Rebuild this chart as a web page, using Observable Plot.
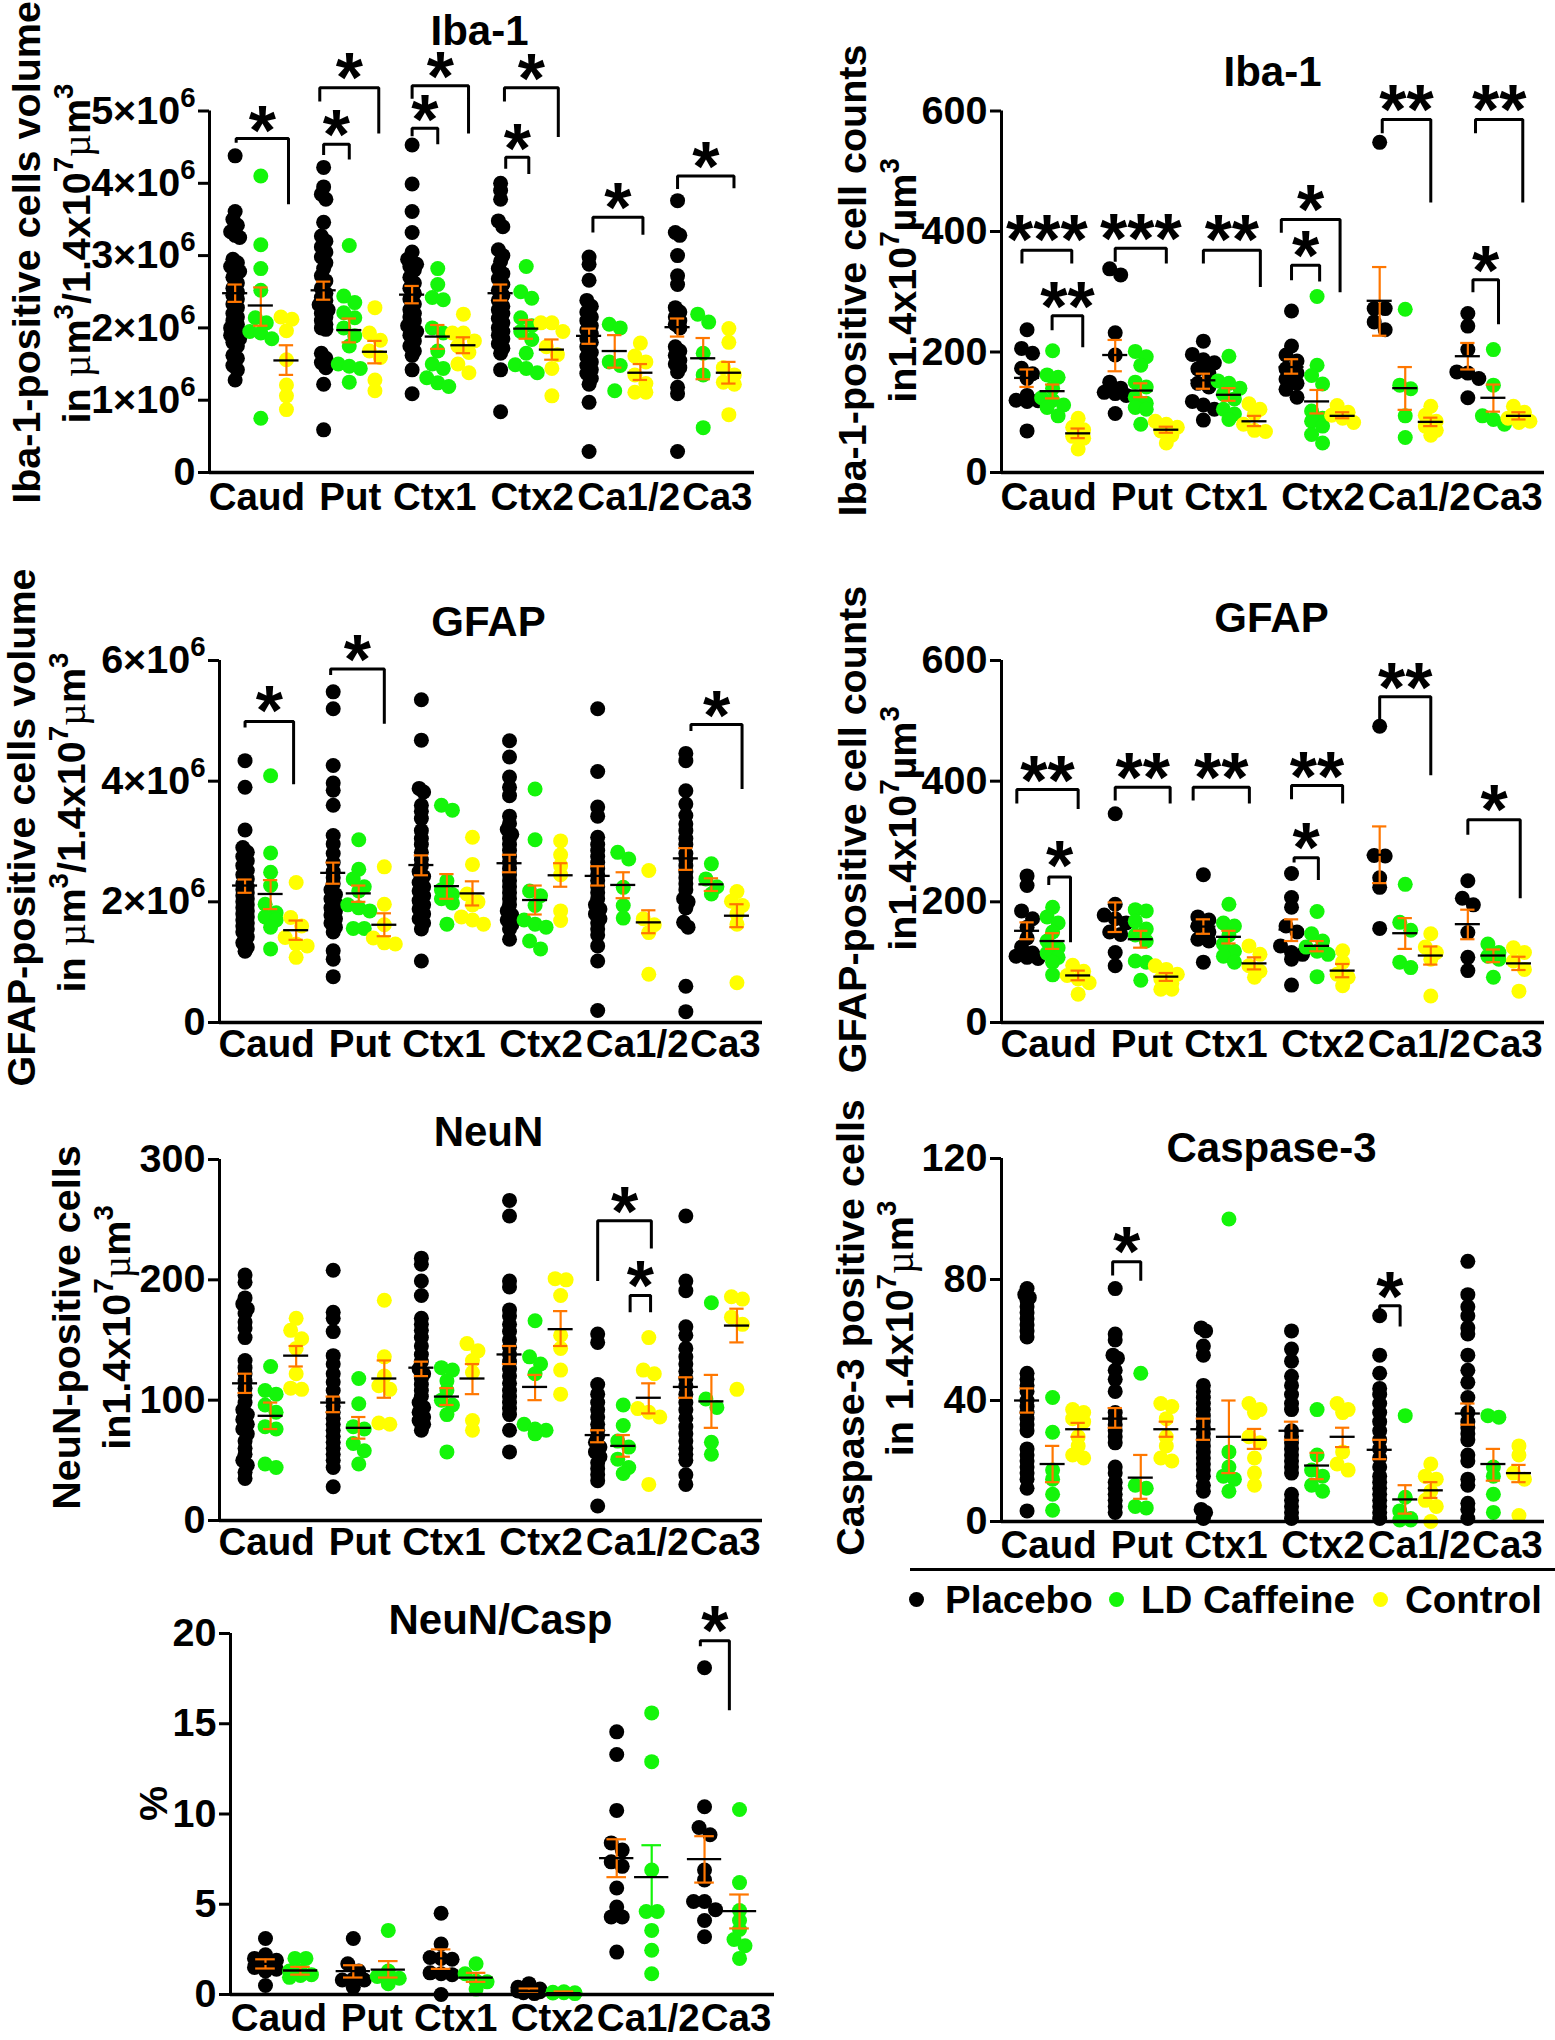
<!DOCTYPE html>
<html><head><meta charset="utf-8">
<script src="https://cdn.jsdelivr.net/npm/d3@7"></script>
<script src="https://cdn.jsdelivr.net/npm/@observablehq/plot@0.6"></script>
<style>
html,body{margin:0;background:#fff}
#page{position:relative;width:1555px;height:2040px;overflow:hidden;font-family:"Liberation Sans",Arial,sans-serif;font-weight:700;color:#000}
#page svg{position:absolute;overflow:visible}
.lg{position:absolute;font-size:38.5px;line-height:40px;white-space:nowrap}
.ld{position:absolute;width:15px;height:15px;border-radius:50%}
</style></head><body><div id="page"></div>
<script>
const regions = ["Caud","Put","Ctx1","Ctx2","Ca1/2","Ca3"];
const seriesNames = ["Placebo","LD Caffeine","Control"];
const seriesColors = ["#000000","#14F50A","#FFFF00"];
const errorColor = "#FF7700";

// ---------- Iba-1 volume (x10^6)
const ibaVolPlacebo = [
 [4.38,3.61,3.5,3.42,3.33,3.28,3.25,2.95,2.9,2.85,2.8,2.78,2.7,2.62,2.55,2.5,2.45,2.4,2.33,2.28,2.2,2.15,2.1,2.05,2.0,1.98,1.95,1.9,1.88,1.85,1.8,1.75,1.62,1.58,1.48,1.42,1.28],
 [4.22,3.95,3.85,3.78,3.46,3.27,3.2,3.12,3.05,2.98,2.9,2.82,2.72,2.65,2.55,2.48,2.42,2.38,2.32,2.28,2.25,2.2,2.15,2.1,2.05,2.0,1.98,1.65,1.58,1.52,1.45,1.22,0.59],
 [4.53,3.99,3.61,3.32,3.05,2.95,2.9,2.88,2.85,2.8,2.7,2.62,2.55,2.48,2.4,2.33,2.25,2.2,2.15,2.1,2.03,2.0,1.95,1.9,1.82,1.75,1.68,1.62,1.42,1.09],
 [4.0,3.9,3.78,3.48,3.4,3.08,3.0,2.92,2.82,2.75,2.68,2.6,2.52,2.45,2.38,2.3,2.25,2.2,2.13,2.07,2.0,1.95,1.9,1.85,1.78,1.72,1.65,1.42,0.84],
 [2.98,2.88,2.66,2.38,2.3,2.22,2.15,2.1,2.03,1.97,1.92,1.85,1.8,1.74,1.66,1.6,1.53,1.48,1.42,1.37,1.3,1.22,0.97,0.29],
 [3.76,3.32,3.28,3.0,2.72,2.6,2.28,2.22,2.15,2.1,2.05,2.0,1.74,1.68,1.62,1.55,1.5,1.45,1.39,1.18,1.09,0.29]];
const ibaVolCaffeine = [
 [4.1,3.15,2.82,2.52,2.14,2.07,1.95,1.93,1.85,0.75],
 [3.14,2.44,2.35,2.21,2.14,2.0,1.89,1.75,1.5,1.47,1.44,1.25],
 [2.82,2.6,2.42,2.39,2.0,1.93,1.68,1.5,1.44,1.31,1.24,1.19],
 [2.85,2.5,2.41,2.14,2.03,1.95,1.84,1.65,1.49,1.44,1.38],
 [2.05,2.0,1.53,1.48,1.13],
 [2.19,2.08,1.65,1.35,0.62]];
const ibaVolControl = [
 [2.12,2.15,1.96,1.56,1.21,1.06,0.87],
 [2.28,1.93,1.83,1.68,1.59,1.28,1.13],
 [2.19,1.93,1.93,1.82,1.75,1.66,1.5,1.38],
 [2.07,2.07,1.95,1.74,1.63,1.44,1.06],
 [1.79,1.61,1.53,1.35,1.23,1.11,1.11],
 [1.99,1.8,1.45,1.35,1.25,1.22,0.8]];
const ibaVolStats = [
 [[2.48,2.36,2.6],[2.31,2.03,2.56],[1.55,1.35,1.76]],
 [[2.52,2.39,2.64],[1.97,1.8,2.13],[1.67,1.51,1.82]],
 [[2.46,2.34,2.58],[1.88,1.71,2.04],[1.76,1.65,1.87]],
 [[2.48,2.38,2.6],[1.99,1.85,2.11],[1.7,1.56,1.84]],
 [[1.89,1.78,1.99],[1.68,1.45,1.9],[1.38,1.28,1.5]],
 [[2.01,1.88,2.13],[1.58,1.29,1.86],[1.38,1.23,1.53]]];
const ibaVolBrackets = [
 [0,0.04,2.08,4.62,4.56,3.71,"*",4.94],[1,-0.15,2.15,5.32,5.13,4.69,"*",5.67],[1,0,1,4.54,4.39,4.33,"*",4.89],
 [2,0,2.2,5.35,5.17,4.69,"*",5.69],[2,0,1,4.76,4.65,4.54,"*",5.1],[3,0.15,2.25,5.32,5.13,4.64,"*",5.66],
 [3,0.2,1.1,4.36,4.2,4.13,"*",4.69],[4,0.15,2.1,3.53,3.32,3.29,"*",3.88],[5,0,2.2,4.1,3.92,3.93,"*",4.44]];

// ---------- Iba-1 counts
const ibaCntPlacebo = [
 [237,206,198,173,164,156,128,120,119,118,69],[338,328,232,195,150,140,133,131,128,98],
 [218,196,187,182,172,165,148,142,118,112,105,87],[268,210,195,185,172,165,155,148,138,125],
 [548,272,272,250,237],[264,243,204,167,165,156,124]];
const ibaCntCaffeine = [
 [202,162,158,140,124,120,112,108,94],[201,192,178,150,142,125,115,108,105,80],
 [193,152,148,140,130,122,105,97,88],[292,178,161,147,102,90,85,77,63,49],
 [271,145,139,94,58],[204,145,94,88,80]];
const ibaCntControl = [
 [90,75,71,60,57,39],[85,80,75,69,62,49],[114,105,97,80,70,68],[111,100,95,90,83],
 [110,95,85,77,70,62],[110,100,94,90,85,83]];
const ibaCntStats = [
 [[157,142,171],[135,123,146],[65,57,73]],[[195,168,220],[136,125,148],[71,66,76]],
 [[153,139,164],[129,119,140],[85,77,94]],[[175,164,188],[118,98,137],[94,90,100]],
 [[285,227,341],[140,104,175],[84,77,91]],[[193,171,215],[124,101,146],[94,88,100]]];
const ibaCntBrackets = [
 [0,-0.2,1.75,369,347,347,"***",412],[0,0.98,2.18,260,236,208,"**",301],[1,0,2,372,350,347,"***",414],
 [2,0,2.23,369,347,308,"**",412],[3,-0.4,1.9,420,398,299,"*",462],[3,0,1.1,344,319,317,"*",385],
 [4,0.1,2,586,563,448,"**",628],[5,0.3,2.15,586,563,448,"**",628],[5,0.2,1.2,320,299,246,"*",361]];

// ---------- GFAP volume (x10^6)
const gfapVolPlacebo = [
 [4.34,3.9,3.19,2.9,2.82,2.75,2.68,2.6,2.52,2.45,2.38,2.3,2.25,2.2,2.15,2.1,2.05,2.0,1.95,1.9,1.85,1.8,1.75,1.7,1.65,1.6,1.55,1.5,1.42,1.32,1.25,1.18],
 [5.48,5.2,4.26,3.97,3.85,3.6,3.1,2.96,2.8,2.65,2.5,2.4,2.3,2.2,2.12,2.05,1.98,1.9,1.85,1.78,1.72,1.65,1.58,1.5,1.19,1.05,0.76],
 [5.35,4.68,3.88,3.82,3.6,3.5,3.38,3.18,3.05,2.95,2.82,2.7,2.6,2.5,2.42,2.32,2.25,2.18,2.1,2.02,1.95,1.88,1.8,1.72,1.65,1.55,1.02],
 [4.67,4.4,4.07,3.9,3.76,3.42,3.3,3.2,3.12,3.05,2.95,2.85,2.75,2.65,2.55,2.45,2.35,2.25,2.15,2.05,1.95,1.85,1.78,1.7,1.62,1.55,1.38],
 [5.2,4.16,3.57,3.42,3.07,2.95,2.85,2.75,2.65,2.55,2.45,2.35,2.25,2.15,2.05,1.95,1.88,1.8,1.72,1.65,1.55,1.45,1.27,1.02,0.2],
 [4.46,4.34,3.84,3.62,3.43,3.29,3.18,3.05,2.95,2.8,2.7,2.6,2.5,2.4,2.3,2.2,2.05,2.0,1.9,1.66,1.58,0.6,0.18]];
const gfapVolCaffeine = [
 [4.09,2.81,2.49,2.27,1.96,1.82,1.75,1.7,1.58,1.22],[3.03,2.54,2.38,2.25,2.18,1.95,1.9,1.85,1.56,1.56],
 [3.6,3.52,2.35,2.2,2.12,2.05,1.98,1.63],[3.87,3.03,2.18,2.1,1.94,1.7,1.63,1.58,1.35,1.22],
 [2.82,2.71,2.24,1.94,1.73],[2.63,2.38,2.25,2.13]];
const gfapVolControl = [
 [2.32,1.74,1.6,1.41,1.3,1.27,1.08],[2.58,1.96,1.62,1.4,1.32,1.3],[3.07,2.62,2.13,2.0,1.95,1.75,1.7,1.63],
 [3.01,2.78,2.6,2.45,1.85,1.69],[2.52,1.72,1.62,1.49,0.8],[2.17,2.01,1.94,1.8,1.63,0.66]];
const gfapVolStats = [
 [[2.27,2.15,2.37],[2.13,1.88,2.36],[1.53,1.37,1.69]],[[2.48,2.3,2.65],[2.14,2.0,2.27],[1.62,1.43,1.81]],
 [[2.61,2.44,2.77],[2.26,2.05,2.46],[2.14,1.94,2.34]],[[2.64,2.49,2.78],[2.03,1.79,2.27],[2.44,2.25,2.64]],
 [[2.43,2.27,2.59],[2.28,2.06,2.49],[1.66,1.48,1.86]],[[2.72,2.53,2.89],[2.29,2.18,2.39],[1.77,1.58,1.96]]];
const gfapVolBrackets = [[0,0,1.9,4.99,4.89,3.95,"*",5.42],[1,-0.1,2,5.86,5.76,4.95,"*",6.28],[5,0.2,2.2,4.94,4.83,3.87,"*",5.35]];

// ---------- GFAP counts
const gfapCntPlacebo = [
 [243,227,185,172,158,140,125,115,110,108,106],[346,196,178,172,165,150,146,116,94],[245,175,170,160,150,138,135,100],
 [247,207,191,160,150,127,116,113,105,62],[491,277,276,240,224,156],[235,206,195,149,108,86]];
const gfapCntCaffeine = [
 [191,175,165,150,135,124,115,108,100,79],[187,185,168,155,145,135,102,100,70],[196,165,160,145,130,118,110,100],
 [184,147,135,125,118,113,76],[229,166,153,100,91],[130,116,110,105,75]];
const gfapCntControl = [
 [95,85,78,72,66,47],[94,88,80,72,65,55,55],[127,113,94,85,75],[119,100,80,75,61],[147,125,116,105,44],[124,116,102,88,52]];
const gfapCntStats = [
 [[152,138,166],[135,122,148],[78,70,86]],[[174,150,199],[138,124,152],[76,69,82]],
 [[159,147,171],[142,131,152],[98,88,108]],[[154,135,171],[127,118,135],[86,75,97]],
 [[278,231,325],[148,122,173],[111,96,126]],[[163,138,187],[111,100,121],[98,87,109]]];
const gfapCntBrackets = [
 [0,-0.4,2,386,363,354,"**",427],[0,0.85,1.7,241,228,133,"*",285],[1,0,2.15,390,368,363,"**",431],
 [2,-0.4,1.8,390,368,363,"**",431],[3,0,2,393,370,363,"**",434],[3,0.1,1.05,273,265,236,"*",315],
 [4,0,2,540,498,410,"**",581],[5,0,2.05,336,311,206,"*",379]];

// ---------- NeuN
const neunPlacebo = [
 [204,198,185,180,176,172,165,160,152,133,127,122,116,110,104,98,92,88,84,80,76,72,66,60,55,50,46,40,35],
 [208,173,168,157,137,130,122,115,108,100,95,90,85,80,75,70,65,60,55,50,44,28],
 [218,213,199,187,168,163,158,152,145,138,132,126,122,118,113,108,103,98,94,90,86,83,80,75],
 [266,253,199,194,175,170,163,157,150,144,138,132,126,120,114,108,103,98,93,88,75,57],
 [155,148,113,105,98,92,86,80,75,70,65,61,57,53,48,43,38,33,12],
 [253,199,191,161,154,143,136,130,124,118,112,105,98,92,85,78,72,66,60,55,50,38,30]];
const neunCaffeine = [
 [128,108,105,96,90,78,76,47,44],[118,97,78,76,64,58,47],[127,125,116,108,100,96,88,57],
 [166,136,130,122,80,76,75,72],[96,79,66,61,51,44,39],[181,101,94,65,55]];
const neunControl = [
 [168,158,151,143,122,110,109],[183,136,120,112,109,81,80],[147,141,133,123,83,75],
 [201,200,187,154,143,125,105],[152,125,122,93,90,86,30],[186,184,169,163,109]];
const neunStats = [
 [[114,106,122],[87,76,98],[137,128,145]],[[98,90,103],[77,68,86],[118,102,133]],
 [[127,120,132],[103,96,110],[118,105,130]],[[138,130,145],[111,100,121],[159,145,174]],
 [[71,65,75],[62,53,71],[102,89,114]],[[111,102,119],[99,77,121],[162,148,176]]];
const neunBrackets = [[4,0,2.1,249,199,226,"*",270],[4,1.27,2.07,187,173,173,"*",208]];

// ---------- Caspase-3
const caspPlacebo = [
 [77,75,74,73,71,69,67,65,63,61,49,47,45,43,40,38,36,34,32,30,24,22,20,18,16,14,11,3.5],
 [77,62,60,55,54,50,47,43,36,34,32,30,28,26,18,16,13,11,9,7,5,3],
 [64,63,58,55,45,43,41,39,37,35,33,31,29,27,25,23,21,19,17,15,12,10,4,3,1],
 [63,57,53,48,45,42,39,37,30,28,26,24,22,20,18,16,9,7,5,3,1],
 [68,55,49,44,42,39,36,33,30,27,24,21,18,15,13,11,9,7,5,3,1],
 [86,75,71,68,64,62,55,50,46,41,36,33,31,29,27,22,20,14,12,6,4,1]];
const caspCaffeine = [
 [41,29.5,17,14,9,3.7],[49,12,11,5,4.5],[100,23,18,15,14,10],[37,22,17,15,12,10],[35,8,3.5,1,0.5,0.5],[35,34.5,18,15,9,3]];
const caspControl = [
 [37,36,34,33,28,25,22,21],[39,38,34,28,25,21,20],[39,37,36,28,26,21,16,12],[39,37,36,23,19,17],[19,15,14,10,7,5,0],[25,22,16,14,2]];
const caspStats = [
 [[40,36,44],[19,13,25],[30.5,28,32.6]],[[34,31,37.5],[14.5,7.5,22],[30.5,28,33]],
 [[30.5,27,34],[28,16,40],[27,24,30.6]],[[30,27,33],[18.5,14,22.7],[28,24.6,31]],
 [[23.7,20.6,27],[7.3,2.6,12],[10.3,7.8,13]],[[35.7,32,39],[19,13.5,24],[16,13,18.7]]];
const caspBrackets = [[1,-0.1,1,85.9,81.3,79.6,"*",94.5],[4,0,0.8,71.3,69.6,64.5,"*",79.6]];

// ---------- NeuN/Casp
const ratioPlacebo = [
 [3.1,2.2,2.0,1.9,1.75,1.6,1.5,1.4,1.3,0.5],[3.1,1.7,1.3,0.85,0.8,0.8,0.4],[4.5,2.8,2.05,2.0,1.95,1.2,1.15,1.1,0],
 [0.6,0.4,0.3,0.25,0.2,0.15,0.1,0.05],[14.55,13.3,10.2,8.4,8.0,7.35,7.1,5.9,4.85,4.3,4.3,2.35],[18.1,10.4,9.25,8.85,6.9,6.35,5.15,5.15,4.7,4.1,3.2]];
const ratioCaffeine = [
 [2.0,2.0,1.3,1.3,1.1,1.05,0.95],[3.55,1.3,1.0,0.9,0.85,0.6],[1.7,1.15,0.75,0.7,0.3],
 [0.15,0.12,0.1,0.1,0.08,0.05],[15.6,12.9,6.9,4.6,4.6,3.55,2.45,1.15],[10.25,6.2,4.65,4.1,3.6,3.05,2.7,2.0]];
const ratioStats = [
 [[1.7,1.44,1.95],[1.33,1.1,1.53]],[[1.3,0.94,1.62],[1.38,0.94,1.85]],[[2.0,1.42,2.5],[0.94,0.7,1.2]],
 [[0.2,0.1,0.33],[0.08,0.04,0.17]],[[7.55,6.5,8.6],[6.5,4.67,8.27]],[[7.5,6.2,8.77],[4.62,3.66,5.54]]];
const ratioBrackets = [[5,-0.12,0.71,19.6,19.3,15.75,"*",21.0]];

const labelShiftPx = [-4,1,-3,6,14,14];

const page = document.getElementById("page");

const superMap = {"\u2076":"6","\u2077":"7","\u00B3":"3"};
function styleGlyphs(svg, thinMu){
  svg.querySelectorAll("text").forEach(t=>{
    const s = t.textContent;
    if(t.children.length || !/[\u2076\u2077\u00B3\u00B5]/.test(s)) return;
    const fs = parseFloat(getComputedStyle(t).fontSize);
    t.textContent = "";
    s.split(/([\u2076\u2077\u00B3\u00B5])/).filter(p=>p).forEach(p=>{
      const sp = document.createElementNS("http://www.w3.org/2000/svg","tspan");
      if(superMap[p]){
        sp.textContent = superMap[p];
        sp.setAttribute("font-size", fs*0.7);
        sp.setAttribute("baseline-shift", fs*0.43);
      } else if(p==="\u00B5" && thinMu){
        sp.textContent = p;
        sp.setAttribute("font-weight","400");
        sp.setAttribute("font-family","Liberation Serif");
      } else sp.textContent = p;
      t.appendChild(sp);
    });
  });
}

function panel(cfg){
  const {left,top,width,height,axisX,endX,y0,yTop,ymax,ticks,tickFormat,groupStep,nSeries,series,stats,brackets,title,lines,labelGap} = cfg;
  const marginLeft = axisX-left, marginRight = left+width-endX, marginTop = yTop-top, marginBottom = top+height-y0;
  const xMax = 5*groupStep + nSeries-1 + 1;
  const unit = (endX-axisX)/(xMax+1);
  const pxPerVal = (y0-yTop)/ymax;
  const dots = [];
  series.forEach((arr,s)=>arr.forEach((vals,g)=>{
    const dense = vals.length>15;
    const binPx = dense?6:9, stepPx = dense?4.5:11, maxCols = dense?5:3;
    const sorted = [...vals].sort((a,b)=>b-a);
    const cycle = [0,-1,1,-2,2];
    let i=0;
    while(i<sorted.length){
      let j=i;
      while(j+1<sorted.length && (sorted[i]-sorted[j+1])*pxPerVal<binPx) j++;
      const n=j-i+1;
      for(let k=0;k<n;k++){
        const col = n<=maxCols ? k-(n-1)/2 : cycle[k%maxCols];
        dots.push({s,g,v:sorted[i+k],x:g*groupStep+s+col*stepPx/unit});
      }
      i=j+1;
    }
  }));
  const rows = [];
  stats.forEach((grp,g)=>grp.forEach(([m,l,h],s)=>rows.push({g,s,x:g*groupStep+s,m,l,h})));
  const bLines = [], stars = [];
  brackets.forEach(([g,s1,s2,t,L,R,lab,sy],b)=>{
    const x1=g*groupStep+s1,x2=g*groupStep+s2;
    bLines.push({b,x:x1,y:L},{b,x:x1,y:t},{b,x:x2,y:t},{b,x:x2,y:R});
    stars.push({x:(x1+x2)/2,y:sy,lab});
  });
  const labelPos = regions.map((r,g)=>g*groupStep+(nSeries-1)/2+labelShiftPx[g]/unit);
  const labelMap = new Map(labelPos.map((p,g)=>[p,regions[g]]));
  const px = (X,Y)=>({frameAnchor:"top-left",dx:X-axisX,dy:Y-yTop});
  const errColor = d => (cfg.greenErr && cfg.greenErr(d)) ? seriesColors[1] : errorColor;
  const svg = Plot.plot({
    width,height,marginLeft,marginRight,marginTop,marginBottom,
    style:{fontFamily:'"Liberation Sans",Arial,sans-serif',overflow:"visible",background:"transparent",left:left+"px",top:top+"px",color:"#000"},
    x:{domain:[-1,xMax]},
    y:{domain:[0,ymax]},
    marks:[
      Plot.dot(dots,{x:"x",y:"v",r:7.5,fill:d=>seriesColors[d.s],stroke:"none"}),
      Plot.ruleX(rows,{x:"x",y1:"l",y2:"h",stroke:errColor,strokeWidth:2.2}),
      Plot.ruleY(rows,{y:"l",x1:d=>d.x-0.28,x2:d=>d.x+0.28,stroke:errColor,strokeWidth:2.2}),
      Plot.ruleY(rows,{y:"h",x1:d=>d.x-0.28,x2:d=>d.x+0.28,stroke:errColor,strokeWidth:2.2}),
      Plot.ruleY(rows,{y:"m",x1:d=>d.x-0.49,x2:d=>d.x+0.49,stroke:"#000",strokeWidth:2.3}),
      Plot.line(bLines,{x:"x",y:"y",z:"b",stroke:"#000",strokeWidth:3,strokeLinejoin:"miter",strokeLinecap:"butt"}),
      Plot.text(stars,{x:"x",y:"y",text:"lab",fontSize:70,fontWeight:700,lineAnchor:"middle",dy:17.5,fill:"#000"}),
      Plot.ruleX([-1],{y1:0,y2:ymax,stroke:"#000",strokeWidth:3}),
      Plot.ruleY([0],{x1:-1,x2:xMax,stroke:"#000",strokeWidth:3.5}),
      Plot.axisY(ticks,{tickFormat,tickSize:11,tickPadding:3,fontSize:39.5,fontWeight:700,label:null,strokeWidth:3,fontVariant:"normal",fill:"#000",stroke:"#000"}),
      Plot.axisX(labelPos,{tickFormat:d=>labelMap.get(d),tickSize:0,tickPadding:labelGap,fontSize:38.5,fontWeight:700,label:null,fontVariant:"normal",fill:"#000"}),
      Plot.text([title[0]],{...px(title[1],title[2]),textAnchor:"middle",lineAnchor:"bottom",fontSize:42,fontWeight:700,fill:"#000"}),
      ...lines.map(([t,bx,cy])=>Plot.text([t],{...px(bx,cy),rotate:-90,textAnchor:"middle",lineAnchor:"bottom",fontSize:39.5,fontWeight:700,fill:"#000"}))
    ]
  });
  page.appendChild(svg);
  styleGlyphs(svg, cfg.thinMu);
}

const fmtE6 = d => d===0 ? "0" : d+"\u00D710\u2076";
const fmtPlain = d => String(d);

panel({left:0,top:0,width:780,height:540,axisX:209,endX:754,y0:472,yTop:110.5,ymax:5,ticks:[0,1,2,3,4,5],tickFormat:fmtE6,thinMu:true,
  groupStep:3.45,nSeries:3,series:[ibaVolPlacebo,ibaVolCaffeine,ibaVolControl],stats:ibaVolStats,brackets:ibaVolBrackets,
  title:["Iba-1",479,44],labelGap:10,
  lines:[["Iba-1-positive cells volume",39,252],["in \u00B5m\u00B3/1.4x10\u2077\u00B5m\u00B3",89,253]]});
panel({left:790,top:0,width:765,height:540,axisX:1001,endX:1544,y0:472,yTop:110.5,ymax:600,ticks:[0,200,400,600],tickFormat:fmtPlain,
  groupStep:3.45,nSeries:3,series:[ibaCntPlacebo,ibaCntCaffeine,ibaCntControl],stats:ibaCntStats,brackets:ibaCntBrackets,
  title:["Iba-1",1272,85.6],labelGap:10,
  lines:[["Iba-1-positive cell counts",865,280],["in1.4x10\u2077\u00B5m\u00B3",915,280]]});
panel({left:0,top:540,width:780,height:550,axisX:219,endX:762,y0:1022,yTop:660,ymax:6,ticks:[0,2,4,6],tickFormat:fmtE6,thinMu:true,
  groupStep:3.45,nSeries:3,series:[gfapVolPlacebo,gfapVolCaffeine,gfapVolControl],stats:gfapVolStats,brackets:gfapVolBrackets,
  title:["GFAP",488,635],labelGap:7,
  lines:[["GFAP-positive cells volume",34,827],["in \u00B5m\u00B3/1.4x10\u2077\u00B5m\u00B3",84,822]]});
panel({left:790,top:540,width:765,height:550,axisX:1001,endX:1544,y0:1022,yTop:660,ymax:600,ticks:[0,200,400,600],tickFormat:fmtPlain,
  groupStep:3.45,nSeries:3,series:[gfapCntPlacebo,gfapCntCaffeine,gfapCntControl],stats:gfapCntStats,brackets:gfapCntBrackets,
  title:["GFAP",1271,631],labelGap:7,
  lines:[["GFAP-positive cell counts",865,829],["in1.4x10\u2077\u00B5m\u00B3",915,828]]});
panel({left:0,top:1090,width:780,height:490,axisX:219,endX:762,y0:1520,yTop:1159,ymax:300,ticks:[0,100,200,300],tickFormat:fmtPlain,thinMu:true,
  groupStep:3.45,nSeries:3,series:[neunPlacebo,neunCaffeine,neunControl],stats:neunStats,brackets:neunBrackets,
  title:["NeuN",488,1145],labelGap:7,
  lines:[["NeuN-positive cells",79,1327],["in1.4x10\u2077\u00B5m\u00B3",129,1327]]});
panel({left:790,top:1090,width:765,height:470,axisX:1001,endX:1544,y0:1521,yTop:1158,ymax:120,ticks:[0,40,80,120],tickFormat:fmtPlain,thinMu:true,
  groupStep:3.45,nSeries:3,series:[caspPlacebo,caspCaffeine,caspControl],stats:caspStats,brackets:caspBrackets,
  title:["Caspase-3",1271,1161],labelGap:9,
  lines:[["Caspase-3 positive cells",863,1327],["in 1.4x10\u2077\u00B5m\u00B3",912,1328]]});
panel({left:0,top:1580,width:780,height:460,axisX:230,endX:774,y0:1994,yTop:1633,ymax:20,ticks:[0,5,10,15,20],tickFormat:fmtPlain,
  groupStep:2.51,nSeries:2,series:[ratioPlacebo,ratioCaffeine],stats:ratioStats,brackets:ratioBrackets,
  title:["NeuN/Casp",500,1633],labelGap:9,
  greenErr:d=>d.g===4&&d.s===1,
  lines:[["%",166,1803]]});

// separator + legend, below the Caspase-3 panel
const sep=document.createElement("div");
sep.style.cssText="position:absolute;left:910px;top:1568px;width:645px;height:3px;background:#000";
page.appendChild(sep);
const legendPos=[[916,945],[1116,1141],[1380,1405]];
seriesNames.forEach((n,i)=>{
  const d=document.createElement("div");d.className="ld";d.style.cssText=`left:${legendPos[i][0]-7}px;top:1592px;background:${seriesColors[i]}`;page.appendChild(d);
  const t=document.createElement("div");t.className="lg";t.textContent=n;t.style.cssText=`left:${legendPos[i][1]}px;top:1580px`;page.appendChild(t);
});
</script></body></html>
